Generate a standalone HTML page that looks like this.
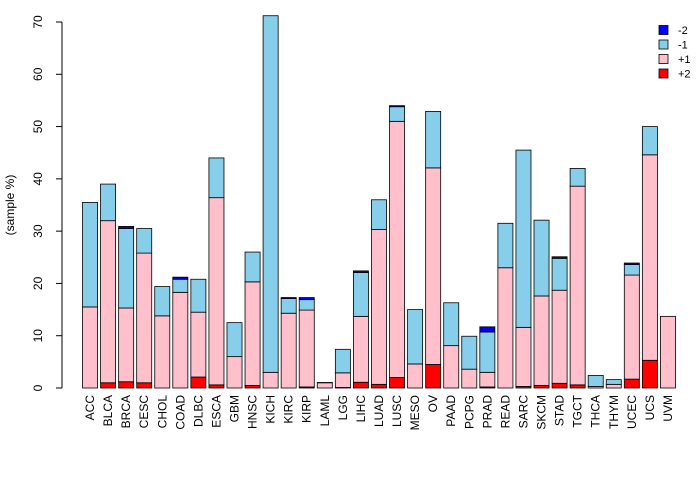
<!DOCTYPE html>
<html><head><meta charset="utf-8"><style>
body{margin:0;background:#fff;font-family:"Liberation Sans",sans-serif}
svg text{font-family:"Liberation Sans",sans-serif;font-size:12px;fill:#000}
</style></head><body>
<svg id="chart" width="700" height="480" xmlns="http://www.w3.org/2000/svg"></svg>
<script>
const categories=["ACC","BLCA","BRCA","CESC","CHOL","COAD","DLBC","ESCA","GBM","HNSC","KICH","KIRC","KIRP","LAML","LGG","LIHC","LUAD","LUSC","MESO","OV","PAAD","PCPG","PRAD","READ","SARC","SKCM","STAD","TGCT","THCA","THYM","UCEC","UCS","UVM"];
const plus2=[0,1,1.2,1,0,0,2.1,0.6,0,0.5,0,0,0.2,0,0.1,1.1,0.7,2,0,4.5,0,0,0.2,0,0.3,0.5,0.9,0.6,0,0,1.7,5.3,0];
const plus1=[15.5,31,14.1,24.8,13.8,18.3,12.4,35.8,6,19.8,3,14.3,14.7,1.0,2.8,12.6,29.6,49,4.6,37.6,8.1,3.6,2.8,23,11.3,17.1,17.8,38,0.3,0.7,19.9,39.3,13.7];
const minus1=[20,7,15.2,4.7,5.6,2.5,6.3,7.6,6.5,5.7,68.2,2.8,2,0.05,4.5,8.4,5.7,2.8,10.4,10.8,8.2,6.3,7.7,8.5,33.9,14.5,6.1,3.4,2.1,0.9,2,5.4,0];
const minus2=[0,0,0.4,0,0,0.4,0,0,0,0,0,0.2,0.4,0,0,0.3,0,0.2,0,0,0,0,1,0,0,0,0.3,0,0,0,0.3,0,0];
const yTicks=[0,10,20,30,40,50,60,70];
const NS="http://www.w3.org/2000/svg",svg=document.getElementById('chart');
const y0=388,ppu=(388-22)/70,x0=82.5,pitch=18.06,bw=15.05;
const Y=v=>y0-v*ppu, X=i=>x0+i*pitch;
function mk(t,a){const e=document.createElementNS(NS,t);for(const k in a)e.setAttribute(k,a[k]);svg.appendChild(e);return e;}
const series=[[plus2,"#ff0000","plus2"],[plus1,"#ffc0cb","plus1"],[minus1,"#87ceeb","minus1"],[minus2,"#0000ff","minus2"]];
categories.forEach((c,i)=>{let cum=0;
 series.forEach(([arr,col,nm])=>{const v=arr[i];if(v<=0)return;
  const r=mk('rect',{x:X(i),y:Y(cum+v),width:bw,height:v*ppu,fill:col,stroke:'#000','stroke-width':0.8});
  
  
  cum+=v;});
 const t=mk('text',{x:0,y:0,transform:`translate(${X(i)+bw/2+4},395) rotate(-90)`,'text-anchor':'end'});
 t.textContent=c;
 
 
});
const ax=mk('line',{x1:62,x2:62,y1:Y(0),y2:Y(70),stroke:'#000'});

yTicks.forEach(v=>{const tk=mk('line',{x1:56,x2:62,y1:Y(v),y2:Y(v),stroke:'#000'});
 
 const t=mk('text',{x:0,y:0,transform:`translate(42,${Y(v)}) rotate(-90)`,'text-anchor':'middle'});t.textContent=v;
 });
const yt=mk('text',{x:0,y:0,transform:'translate(14,205) rotate(-90)','text-anchor':'middle'});yt.textContent='(sample %)';

[["-2","#0000ff"],["-1","#87ceeb"],["+1","#ffc0cb"],["+2","#ff0000"]].forEach(([l,c],k)=>{
 const yy=30+k*14.5;
 const r=mk('rect',{x:659,y:yy-4.5,width:9,height:9,fill:c,stroke:'#000','stroke-width':0.8});
 
 const t=mk('text',{x:678,y:yy+4,'font-size':'11'});t.textContent=l;t.style.fontSize='11px';
 });
</script>
</body></html>
